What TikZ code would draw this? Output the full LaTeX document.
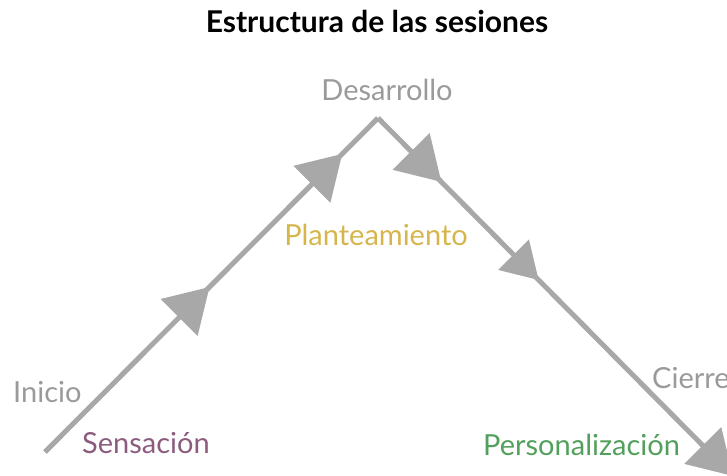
\documentclass[tikz,border=0pt]{standalone}
\usepackage{fontspec}
\setmainfont{Lato}
\usetikzlibrary{positioning,arrows.meta,calc,decorations.markings}

\definecolor{linegray}{HTML}{A8A8A8}
\definecolor{txtgray}{HTML}{9A9A9A}
\definecolor{mauve}{HTML}{8C5C7E}
\definecolor{gold}{HTML}{D6B64C}
\definecolor{leafgreen}{HTML}{52A05C}

\begin{document}
\begin{tikzpicture}[
  x=1pt, y=-1pt,
  font=\fontsize{29}{34}\selectfont,
  tri/.tip={Triangle[length=43pt, width=51pt]},
  trail/.style={draw=linegray, line width=5pt},
  lbl/.style={inner sep=0pt, anchor=base west},
  stage/.style={lbl, text=txtgray},
  midtip/.style={postaction={decorate}, decoration={markings,
      mark=at position #1 with {\arrow[linegray]{tri}}}},
  twotips/.style 2 args={postaction={decorate}, decoration={markings,
      mark=at position #1 with {\arrow[linegray]{tri}},
      mark=at position #2 with {\arrow[linegray]{tri}}}},
]

\useasboundingbox (0,0) rectangle (727,475);
\clip (0,0) rectangle (727,475);

%% ---------- title ----------
\node[inner sep=0pt, anchor=base, font=\fontsize{30}{36}\selectfont\bfseries] (title) at (377,32) {Estructura de las sesiones};

%% ---------- the path up and down ----------
\coordinate (start) at (45,452);
\coordinate (peak) at (378,118);
\coordinate (stop) at (733,476);

\draw[trail, twotips={233pt}{421pt}] (start) -- (peak);
\draw[trail, midtip={90pt}, -tri] (peak) -- (stop);
\draw[trail, midtip={233pt}, draw opacity=0] (peak) -- (stop);

%% ---------- stages ----------
\node[stage, anchor=base] (desarrollo) at ($(peak)+(9,-18)$) {Desarrollo};
\node[stage] (inicio) at (13,402) {Inicio};
\node[stage] (cierre) at (652,388) {Cierre};

%% ---------- phases ----------
\node[lbl, text=mauve] (sensacion) at (82,453) {Sensación};
\node[lbl, anchor=base, text=gold] (planteamiento) at (376,245) {Planteamiento};
\node[lbl, text=leafgreen] (personalizacion) at (483,455) {Personalización};

\end{tikzpicture}
\end{document}
